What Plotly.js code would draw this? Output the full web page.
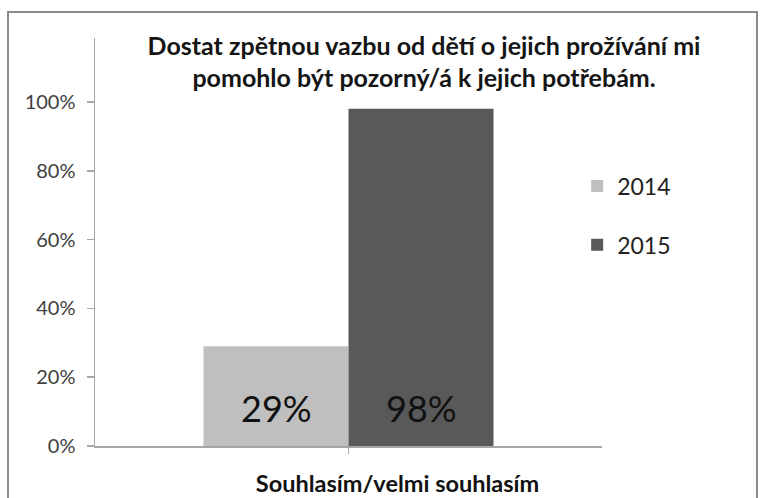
<!DOCTYPE html>
<html>
<head>
<meta charset="utf-8">
<script src="https://cdn.plot.ly/plotly-3.0.1.min.js"></script>
<style>
html,body{margin:0;padding:0;background:#fff;}
#chart{width:760px;height:498px;}
</style>
</head>
<body>
<div id="chart"></div>
<script>
var categories = ["Souhlasím/velmi souhlasím"];
var seriesNames = ["2014", "2015"];
var values2014 = [0.29];
var values2015 = [0.98];
var yTickVals = [0, 0.2, 0.4, 0.6, 0.8, 1.0];
var yTickText = ["0%", "20%", "40%", "60%", "80%", "100%"];
var titleText = "Dostat zpětnou vazbu od dětí o jejich prožívání mi<br>pomohlo být pozorný/á k jejich potřebám.";

var FONT = "Lato, 'Open Sans', sans-serif";
var BARGAP = 0.428;

function barTrace(name, vals, color) {
  return {
    type: "bar",
    name: name,
    x: categories.map(function (c, i) { return i; }),
    y: vals,
    legendgroup: name,
    marker: {color: color, line: {width: 0}},
    textposition: "none",
    hoverinfo: "skip"
  };
}

var seriesValues = [values2014, values2015];
var seriesColors = ["#bfbfbf", "#595959"];
var data = seriesNames.map(function (n, j) { return barTrace(n, seriesValues[j], seriesColors[j]); });

// value labels placed near bar bases (as in the original), positioned through the axis scale
var annotations = [];
var nSeries = seriesNames.length;
var barW = (1 - BARGAP) / nSeries;
seriesValues.forEach(function (vals, j) {
  vals.forEach(function (v, i) {
    annotations.push({
      xref: "x", yref: "y",
      x: i - (1 - BARGAP) / 2 + barW * (j + 0.5),
      y: 0,
      yanchor: "bottom", yshift: 14,
      text: Math.round(v * 100) + "%",
      showarrow: false,
      font: {family: FONT, size: 36, color: "#111"}
    });
  });
});

var layout = {
  width: 760,
  height: 498,
  margin: {l: 95, r: 158, t: 38, b: 52, pad: 0},
  paper_bgcolor: "#ffffff",
  plot_bgcolor: "#ffffff",
  font: {family: FONT, color: "#404040"},
  title: {
    text: titleText,
    font: {family: FONT, size: 25, color: "#151515", weight: "bold"},
    x: 0.649, xanchor: "center", xref: "paper",
    y: 0.89, yanchor: "top", yref: "container"
  },
  barmode: "group",
  bargap: BARGAP,
  bargroupgap: 0,
  showlegend: true,
  legend: {
    x: 0.951, xanchor: "left",
    y: 0.69, yanchor: "top",
    font: {family: FONT, size: 23, color: "#222"},
    traceorder: "grouped",
    tracegroupgap: 26,
    itemwidth: 30,
    bgcolor: "rgba(0,0,0,0)"
  },
  xaxis: {
    range: [-0.5, categories.length - 0.5],
    tickvals: categories.map(function (c, i) { return i; }),
    ticktext: categories,
    tickson: "boundaries",
    showline: true, linecolor: "#a6a6a6", linewidth: 1.5,
    ticks: "outside", ticklen: 6, tickcolor: "#a6a6a6", tickwidth: 1.5,
    showgrid: false, zeroline: false,
    tickfont: {family: FONT, size: 23.5, color: "#111", weight: "bold"},
    ticklabelshift: 49,
    ticklabelstandoff: 10
  },
  yaxis: {
    range: [0, 1.186],
    tickvals: yTickVals,
    ticktext: yTickText,
    showline: true, linecolor: "#a6a6a6", linewidth: 1.5,
    ticks: "outside", ticklen: 7, tickcolor: "#a6a6a6", tickwidth: 1.5,
    showgrid: false, zeroline: false,
    tickfont: {family: FONT, size: 20, color: "#404040"},
    ticklabelstandoff: 7
  },
  annotations: annotations,
  shapes: [{
    type: "rect", xref: "paper", yref: "paper",
    x0: -0.1716, x1: 1.3057, y0: -0.3, y1: 1.0637,
    line: {color: "#8c8c8c", width: 2}, fillcolor: "rgba(0,0,0,0)", layer: "below"
  }]
};

Plotly.newPlot("chart", data, layout, {displayModeBar: false, staticPlot: true});
</script>
</body>
</html>
